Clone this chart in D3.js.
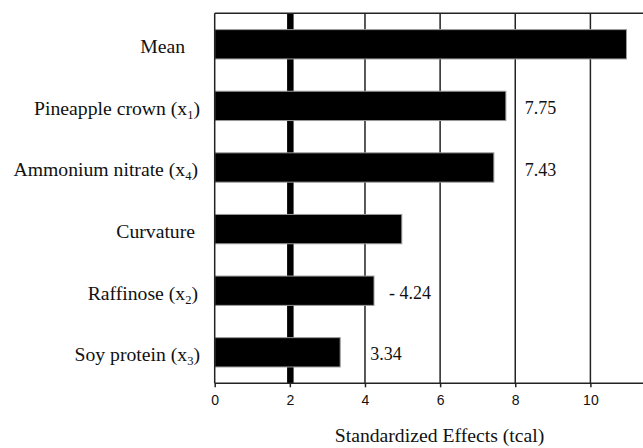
<!DOCTYPE html>
<html>
<head>
<meta charset="utf-8">
<script src="https://cdn.jsdelivr.net/npm/d3@7"></script>
<style>
  html, body { margin: 0; padding: 0; background: #fff; }
  svg { display: block; }
</style>
</head>
<body>
<svg id="chart" width="643" height="448"></svg>
<script>
// ---- data ----
const categories = ["Mean", "Pineapple crown", "Ammonium nitrate", "Curvature", "Raffinose", "Soy protein"];
const subscripts = ["", "1", "4", "", "2", "3"];
const effects = [10.96, 7.75, 7.43, 4.98, 4.24, 3.34];
const valueLabels = ["", "7.75", "7.43", "", "- 4.24", "3.34"];
const xTicks = [0, 2, 4, 6, 8, 10];
const gridValues = [4, 6, 8, 10];
const criticalValue = 2;
const xTitle = "Standardized Effects (tcal)";

// ---- layout ----
const plotL = 214.7, plotR = 643, plotT = 13.3, plotB = 383.3;
const labelDx = [0, 19, 31, 0, 15, 30];
const catLabelX = [185, 200, 198, 195, 198, 200];

const svg = d3.select("#chart");
const x = d3.scaleLinear().domain([0, 11.4]).range([plotL, plotR]);
const y = d3.scaleBand().domain(categories).range([plotT, plotB])
  .paddingInner(0.524).paddingOuter(0.265);

const serif = "'Liberation Serif', 'DejaVu Serif', serif";
const sans = "'Liberation Sans', Arial, sans-serif";

// grid lines
svg.append("g").selectAll("line").data(gridValues).join("line")
  .attr("x1", d => x(d)).attr("x2", d => x(d))
  .attr("y1", plotT).attr("y2", plotB)
  .attr("stroke", "#222").attr("stroke-width", 1.5);

// critical line
svg.append("line")
  .attr("x1", x(criticalValue) + 0.5).attr("x2", x(criticalValue) + 0.5)
  .attr("y1", plotT).attr("y2", plotB)
  .attr("stroke", "#000").attr("stroke-width", 6.5);

// top border
svg.append("line").attr("x1", plotL).attr("x2", plotR)
  .attr("y1", plotT).attr("y2", plotT)
  .attr("stroke", "#222").attr("stroke-width", 1.5);

// bars
svg.append("g").selectAll("rect").data(categories).join("rect")
  .attr("x", x(0))
  .attr("y", d => y(d))
  .attr("width", (d, i) => x(effects[i]) - x(0))
  .attr("height", y.bandwidth())
  .attr("fill", "#000")
  .attr("stroke", "#9a9a9a").attr("stroke-width", 1);

// left axis line
svg.append("line").attr("x1", plotL).attr("x2", plotL)
  .attr("y1", plotT).attr("y2", plotB)
  .attr("stroke", "#222").attr("stroke-width", 1.5);

// bottom axis
const xAxis = d3.axisBottom(x).tickValues(xTicks).tickSize(4).tickPadding(8)
  .tickFormat(d3.format("d"));
const gx = svg.append("g").attr("transform", `translate(0,${plotB})`).call(xAxis);
gx.select(".domain").attr("stroke", "#222").attr("stroke-width", 1.5)
  .attr("d", `M${plotL},0H${plotR}`);
gx.selectAll(".tick line").attr("stroke", "#222").attr("stroke-width", 1.5);
gx.selectAll(".tick text").attr("font-family", sans).attr("font-size", 14)
  .attr("fill", "#111");

// category labels
const lab = svg.append("g").selectAll("text").data(categories).join("text")
  .attr("x", (d, i) => catLabelX[i])
  .attr("y", d => y(d) + y.bandwidth() / 2)
  .attr("dy", "0.45em")
  .attr("text-anchor", "end")
  .attr("font-family", serif).attr("font-size", 19.7).attr("fill", "#111");
lab.each(function(d, i) {
  const t = d3.select(this);
  if (subscripts[i]) {
    t.append("tspan").text(d + " (x");
    t.append("tspan").attr("font-size", 12.5).attr("dy", 4).text(subscripts[i]);
    t.append("tspan").attr("dy", -4).text(")");
  } else {
    t.text(d);
  }
});

// value labels
svg.append("g").selectAll("text").data(categories).join("text")
  .attr("x", (d, i) => x(effects[i]) + labelDx[i])
  .attr("y", d => y(d) + y.bandwidth() / 2)
  .attr("dy", "0.45em")
  .attr("font-family", serif).attr("font-size", 18).attr("fill", "#111")
  .text((d, i) => valueLabels[i]);

// axis title
svg.append("text")
  .attr("x", 439.5).attr("y", 442)
  .attr("text-anchor", "middle")
  .attr("font-family", serif).attr("font-size", 19.7).attr("fill", "#111")
  .text(xTitle);
</script>
</body>
</html>
